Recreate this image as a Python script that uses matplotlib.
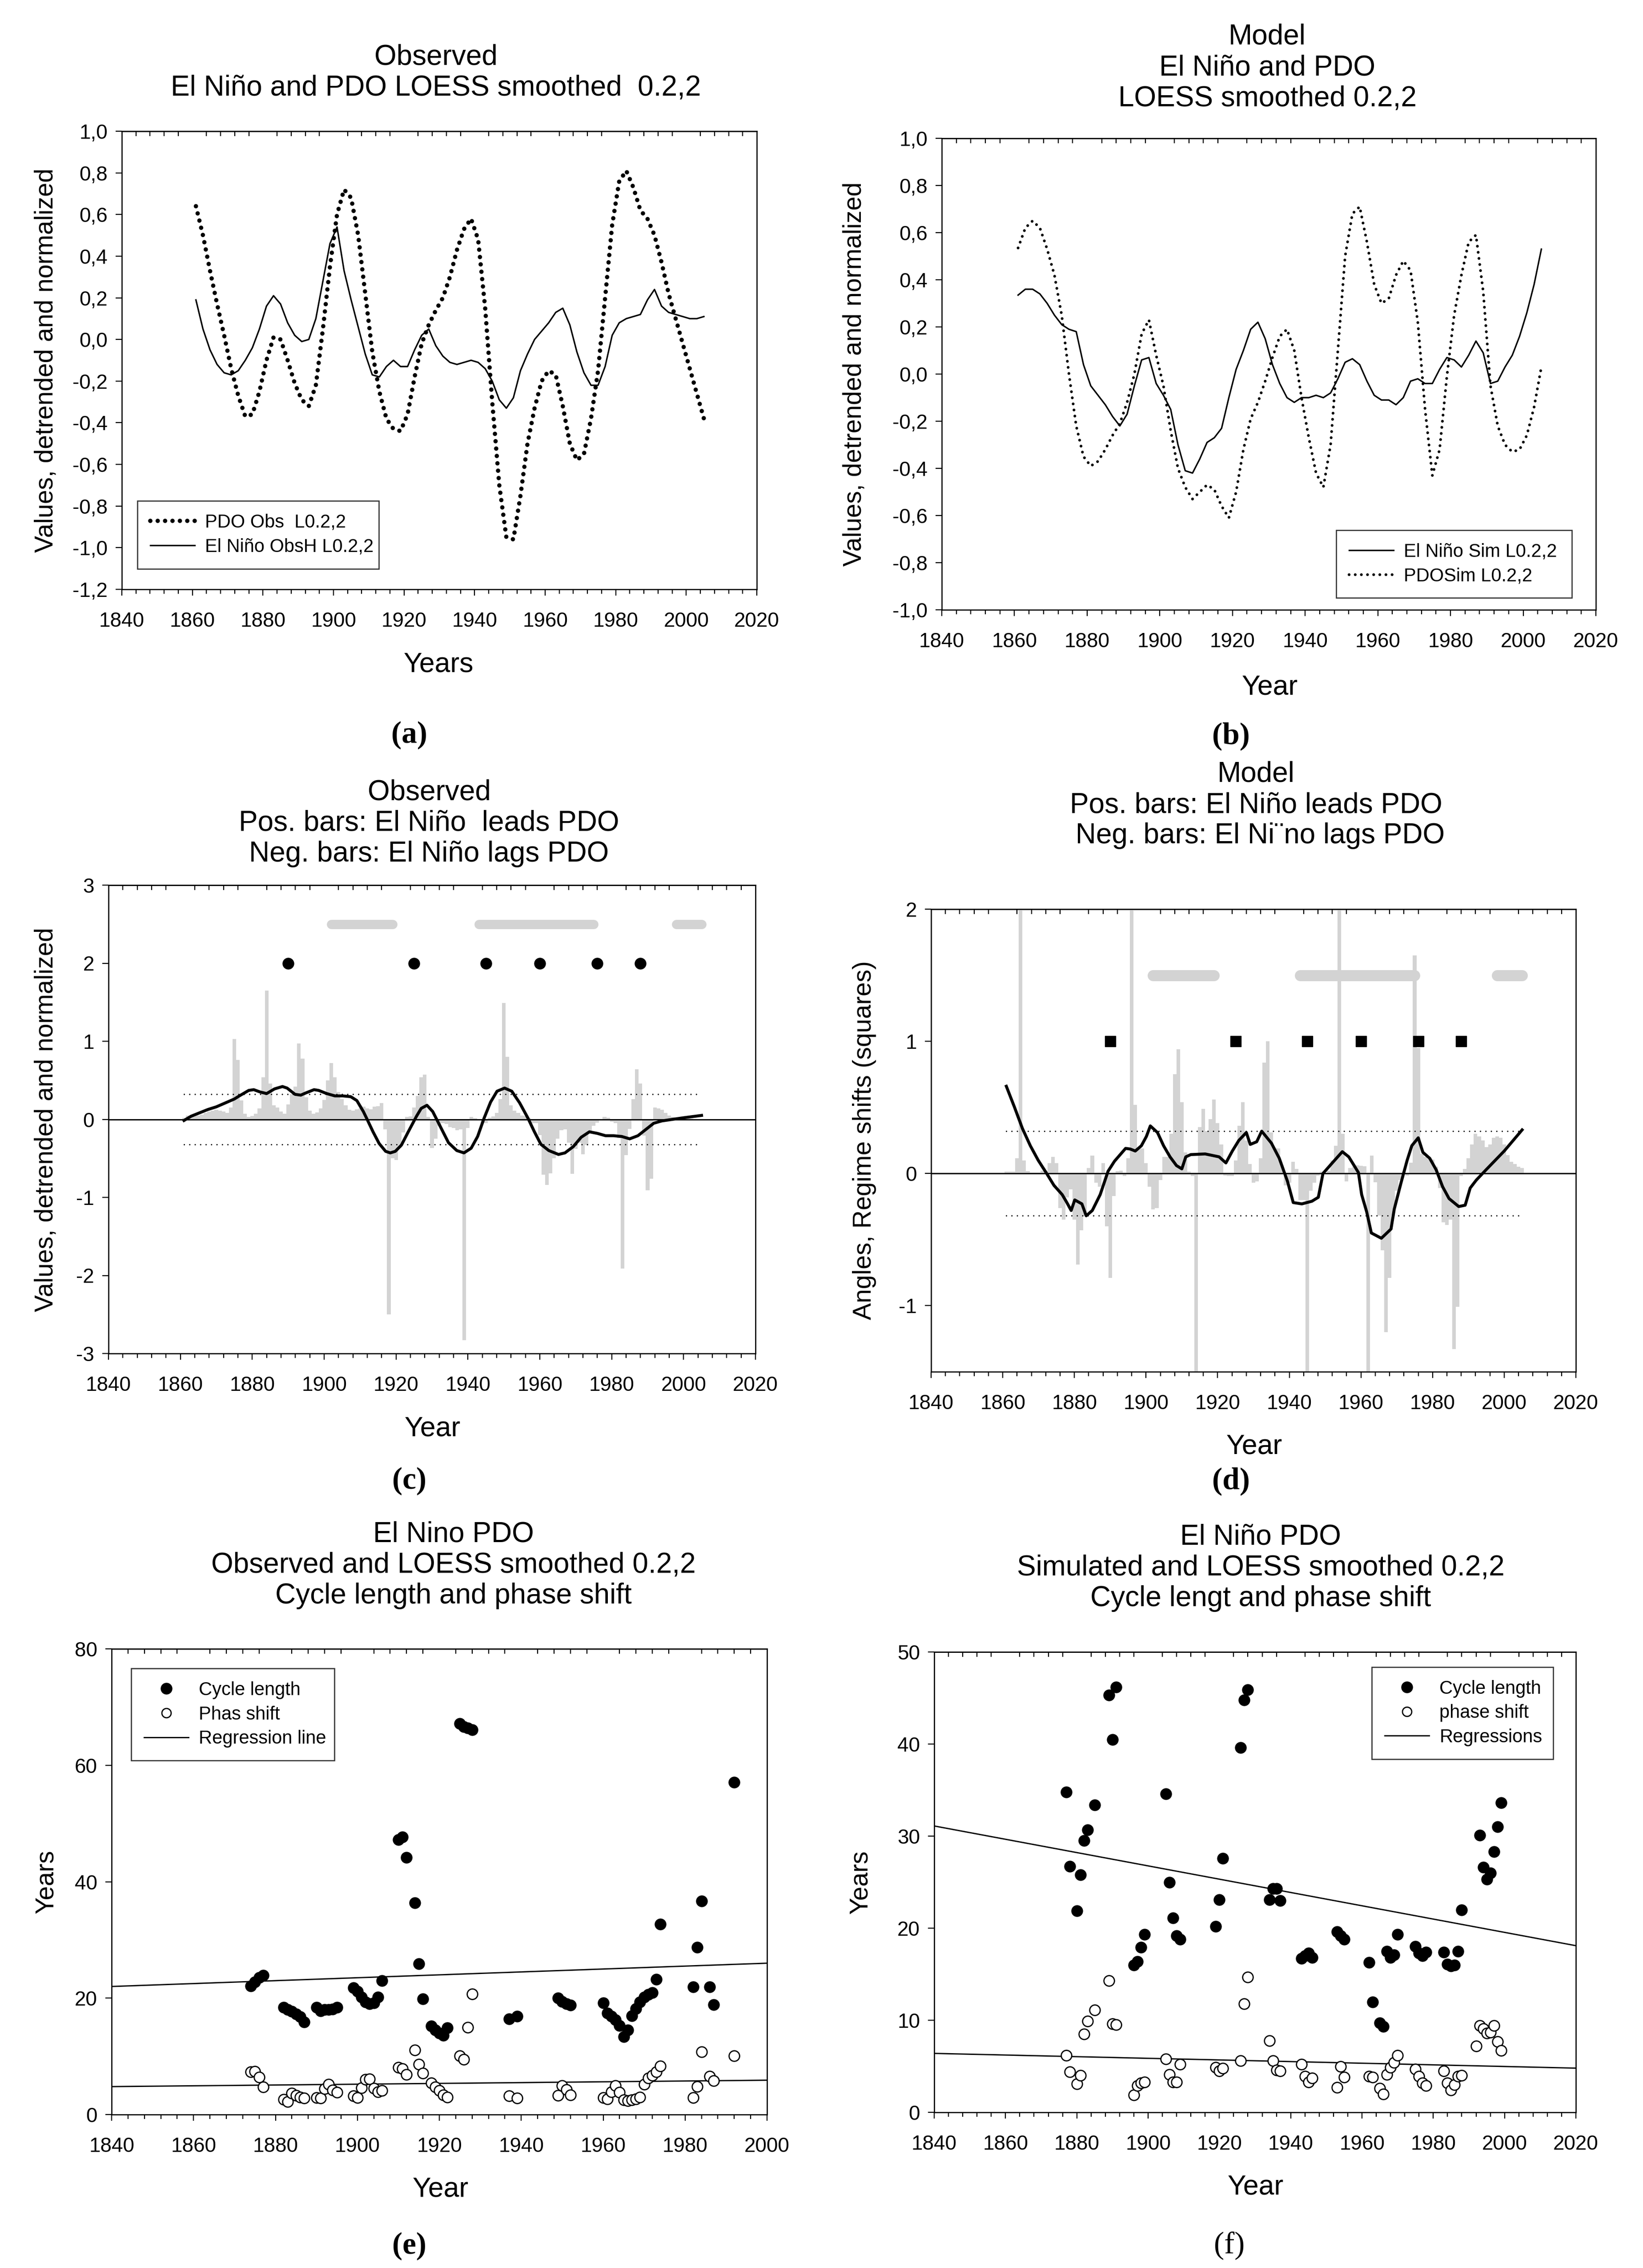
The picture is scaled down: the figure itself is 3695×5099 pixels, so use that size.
import matplotlib
matplotlib.use("Agg")
import matplotlib.pyplot as plt
from matplotlib import ticker
from matplotlib.lines import Line2D

plt.rcParams['font.family'] = ['Liberation Sans', 'DejaVu Sans']

W, H = 3695, 5099
GRAY = '#d3d3d3'

# ---------------- (a) observed, LOESS smoothed ----------------
a_years = list(range(1861, 2006, 2))
pdo_obs = [0.64, 0.50, 0.33, 0.17, 0.02, -0.14, -0.27, -0.37, -0.36, -0.25,
           -0.10, 0.01, 0.00, -0.10, -0.21, -0.29, -0.32, -0.22, 0.05, 0.35,
           0.60, 0.72, 0.68, 0.50, 0.22, -0.06, -0.25, -0.38, -0.43, -0.44,
           -0.36, -0.18, -0.02, 0.07, 0.14, 0.20, 0.30, 0.43, 0.53, 0.58,
           0.48, 0.15, -0.30, -0.70, -0.95, -0.96, -0.75, -0.50, -0.33, -0.20,
           -0.15, -0.17, -0.32, -0.50, -0.58, -0.55, -0.38, -0.15, 0.20, 0.55,
           0.76, 0.81, 0.73, 0.62, 0.58, 0.50, 0.37, 0.22, 0.10, -0.02,
           -0.14, -0.26, -0.38]
nino_obs = [0.19, 0.05, -0.05, -0.12, -0.16, -0.17, -0.15, -0.10, -0.04, 0.05,
            0.16, 0.21, 0.17, 0.08, 0.02, -0.01, 0.00, 0.10, 0.28, 0.46,
            0.54, 0.33, 0.19, 0.06, -0.07, -0.17, -0.18, -0.13, -0.10, -0.13,
            -0.13, -0.05, 0.02, 0.05, -0.03, -0.08, -0.11, -0.12, -0.11, -0.10,
            -0.11, -0.14, -0.20, -0.29, -0.33, -0.28, -0.15, -0.07, 0.00, 0.04,
            0.08, 0.13, 0.15, 0.07, -0.06, -0.16, -0.22, -0.22, -0.13, 0.02,
            0.08, 0.10, 0.11, 0.12, 0.19, 0.24, 0.16, 0.13, 0.12, 0.11,
            0.10, 0.10, 0.11]
a_yticks = [-1.2, -1.0, -0.8, -0.6, -0.4, -0.2, 0.0, 0.2, 0.4, 0.6, 0.8, 1.0]
a_ylabels = ['-1,2', '-1,0', '-0,8', '-0,6', '-0,4', '-0,2', '0,0', '0,2', '0,4', '0,6', '0,8', '1,0']

# ---------------- (b) model, LOESS smoothed ----------------
b_years = list(range(1861, 2006, 2))
nino_sim = [0.335, 0.36, 0.36, 0.34, 0.30, 0.25, 0.21, 0.19, 0.18, 0.04,
            -0.05, -0.09, -0.13, -0.18, -0.22, -0.17, -0.05, 0.06, 0.07, -0.04,
            -0.09, -0.15, -0.30, -0.41, -0.42, -0.36, -0.29, -0.27, -0.23, -0.10,
            0.02, 0.10, 0.19, 0.22, 0.15, 0.04, -0.04, -0.10, -0.12, -0.10,
            -0.10, -0.09, -0.10, -0.08, -0.02, 0.05, 0.065, 0.04, -0.03, -0.09,
            -0.11, -0.11, -0.13, -0.10, -0.03, -0.02, -0.04, -0.04, 0.02, 0.07,
            0.06, 0.03, 0.08, 0.14, 0.09, -0.04, -0.03, 0.03, 0.08, 0.16,
            0.26, 0.38, 0.53]
pdo_sim = [0.535, 0.62, 0.65, 0.62, 0.53, 0.42, 0.25, 0.00, -0.22, -0.35,
           -0.39, -0.37, -0.32, -0.26, -0.21, -0.12, 0.00, 0.17, 0.23, 0.08,
           -0.05, -0.24, -0.40, -0.48, -0.53, -0.50, -0.47, -0.49, -0.56, -0.61,
           -0.50, -0.32, -0.19, -0.12, -0.03, 0.07, 0.16, 0.19, 0.10, -0.10,
           -0.27, -0.42, -0.48, -0.30, 0.10, 0.50, 0.68, 0.71, 0.56, 0.38,
           0.30, 0.32, 0.42, 0.48, 0.44, 0.22, -0.15, -0.43, -0.32, -0.01,
           0.25, 0.42, 0.56, 0.59, 0.35, -0.05, -0.22, -0.30, -0.33, -0.32,
           -0.26, -0.14, 0.03]
b_yticks = [-1.0, -0.8, -0.6, -0.4, -0.2, 0.0, 0.2, 0.4, 0.6, 0.8, 1.0]
b_ylabels = ['-1,0', '-0,8', '-0,6', '-0,4', '-0,2', '0,0', '0,2', '0,4', '0,6', '0,8', '1,0']

# ---------------- (c) observed lead/lag bars ----------------
c_bar_years = list(range(1861, 2005))
c_bar_vals = [0.02, 0.05, 0.05, 0.04, 0.05, 0.06, 0.08, 0.10, 0.11,
              0.12, 0.11, 0.10, 0.08, 0.15, 1.03, 0.76, 0.24, 0.07, 0.03,
              0.04, 0.07, 0.14, 0.54, 1.65, 0.46, 0.18, 0.15, 0.10, 0.07,
              0.19, 0.32, 0.42, 0.97, 0.78, 0.28, 0.11, 0.07, 0.09, 0.14,
              0.25, 0.50, 0.72, 0.54, 0.35, 0.26, 0.18, 0.12, 0.11, 0.13,
              0.14, 0.16, 0.14, 0.13, 0.16, 0.17, 0.21, -0.13, -2.50, -0.50,
              -0.52, -0.37, -0.17, 0.03, 0.035, 0.15, 0.30, 0.54, 0.57, 0.03,
              -0.37, -0.25, -0.08, -0.05, -0.06, -0.10, -0.11, -0.14, -0.13, -2.83,
              -0.11, 0.03, 0.015, -0.015, -0.045, -0.05, 0.02, 0.035, 0.08, 0.26,
              1.49, 0.80, 0.18, 0.11, 0.08, 0.05, 0.04, 0.015, -0.05, -0.05,
              -0.20, -0.71, -0.84, -0.69, -0.50, -0.25, -0.14, -0.13, -0.30, -0.70,
              -0.38, -0.30, -0.45, -0.33, -0.16, -0.08, -0.04, -0.015, 0.03, 0.02,
              -0.03, -0.05, -0.24, -1.91, -0.46, -0.12, 0.26, 0.64, 0.46, -0.21,
              -0.91, -0.76, 0.15, 0.14, 0.12, 0.08, 0.05, 0.03, 0.02, 0.02,
              0.01, 0.01, 0.01, 0.005, 0.005]
c_curve_years = [1861, 1863, 1867.6, 1870, 1872, 1875, 1876.4, 1879, 1880.4, 1882.2,
                 1884, 1886.2, 1888.4, 1889.7, 1891.9, 1893.5, 1895, 1897.2, 1898.5, 1900.7,
                 1903, 1905.2, 1907.4, 1909.1, 1910.9, 1911.8, 1913.6, 1915.3, 1917.1, 1918.4,
                 1919.8, 1921.5, 1923.4, 1925.7, 1927, 1928.6, 1930.2, 1932.4, 1934.6, 1936.9,
                 1938.9, 1940.9, 1942.7, 1944.5, 1946.3, 1948.1, 1950.2, 1952.2, 1954.4, 1956.7,
                 1958.5, 1960.3, 1962.5, 1965.2, 1967, 1969.3, 1971.5, 1973.8, 1976, 1978.3,
                 1980.5, 1982.8, 1985, 1987.3, 1989.5, 1991.7, 1994, 1997, 2000, 2005]
c_curve_vals = [-0.015, 0.04, 0.125, 0.16, 0.2, 0.26, 0.3, 0.37, 0.38, 0.35,
                0.33, 0.39, 0.42, 0.4, 0.32, 0.31, 0.34, 0.38, 0.37, 0.33,
                0.3, 0.3, 0.29, 0.24, 0.1, 0.015, -0.16, -0.31, -0.41, -0.43,
                -0.41, -0.33, -0.16, 0.04, 0.14, 0.18, 0.1, -0.1, -0.3, -0.4,
                -0.43, -0.37, -0.22, 0.015, 0.22, 0.36, 0.4, 0.36, 0.21, 0.015,
                -0.16, -0.32, -0.4, -0.45, -0.43, -0.35, -0.23, -0.16, -0.18, -0.21,
                -0.21, -0.22, -0.25, -0.21, -0.13, -0.05, -0.02, 0.0, 0.02, 0.05]

# ---------------- (d) model lead/lag bars ----------------
d_bar_years = list(range(1861, 2006))
d_bar_vals = [0.013, 0.013, 0.013, 0.115, 2.2, 0.10, 0.017, 0.007, 0.007,
              0.007, 0.02, 0.02, 0.08, 0.126, 0.08, -0.26, -0.35, -0.18, -0.12,
              -0.35, -0.69, -0.43, -0.32, 0.04, 0.135, -0.07, -0.10, 0.08, -0.40,
              -0.79, -0.17, 0.017, 0.02, -0.02, 0.115, 2.2, 0.52, 0.19, 0.19,
              0.08, -0.10, -0.27, -0.26, -0.05, 0.126, 0.126, 0.30, 0.75, 0.94,
              0.54, 0.16, 0.013, -0.02, -1.6, 0.35, 0.49, 0.32, 0.41, 0.56,
              0.38, 0.22, -0.015, -0.02, -0.02, 0.10, 0.36, 0.54, 0.25, 0.07,
              -0.07, -0.06, 0.115, 0.84, 1.00, 0.31, 0.19, 0.19, 0.06, -0.09,
              -0.07, 0.087, 0.035, -0.20, -0.20, -1.6, -0.13, -0.07, -0.015, 0.013,
              0.005, 0.02, 0.10, 0.21, 2.2, 0.30, -0.06, 0.04, 0.05, 0.06,
              0.057, 0.054, -1.6, 0.137, -0.065, -0.32, -0.58, -1.20, -0.79, -0.32,
              -0.13, -0.05, 0.013, -0.015, 0.083, 1.65, 0.95, 0.148, 0.126, 0.11,
              0.104, 0.05, -0.11, -0.37, -0.39, -0.35, -1.33, -1.01, -0.02, 0.035,
              0.115, 0.22, 0.30, 0.28, 0.25, 0.20, 0.22, 0.27, 0.28, 0.27,
              0.22, 0.14, 0.09, 0.07, 0.05, 0.04]
d_curve_years = [1861, 1863.3, 1865.5, 1867.7, 1869.9, 1872.1, 1874.3, 1876.6, 1877.9, 1879.1,
                 1880.1, 1882.1, 1883.3, 1885, 1887.2, 1889.4, 1891.2, 1894.3, 1895.6, 1897,
                 1898.7, 1900.1, 1901.2, 1903.2, 1904.9, 1906.7, 1908.5, 1910, 1911.1, 1912.5,
                 1916.5, 1920.4, 1922.3, 1924.1, 1925.9, 1928, 1929.1, 1930.9, 1932.3, 1935,
                 1937.2, 1939.5, 1941.1, 1943.5, 1946.3, 1948.1, 1949.4, 1952.1, 1954.8, 1956.6,
                 1959.3, 1960.2, 1961.6, 1962.9, 1965.7, 1968.4, 1969.3, 1971.1, 1972.9, 1974.2,
                 1976, 1977.3, 1979.2, 1981, 1982.8, 1984.6, 1987.3, 1989.1, 1990.5, 1992.2,
                 1995, 2000, 2005]
d_curve_vals = [0.66, 0.5, 0.34, 0.21, 0.10, 0.007, -0.09, -0.16, -0.22, -0.28,
                -0.2, -0.23, -0.32, -0.28, -0.16, 0.017, 0.093, 0.19, 0.185, 0.17,
                0.21, 0.28, 0.36, 0.31, 0.21, 0.126, 0.06, 0.035, 0.126, 0.143,
                0.148, 0.126, 0.08, 0.17, 0.25, 0.31, 0.22, 0.24, 0.32, 0.23,
                0.115, -0.06, -0.22, -0.23, -0.21, -0.18, 0.0, 0.083, 0.165, 0.126,
                0.007, -0.16, -0.29, -0.45, -0.49, -0.42, -0.27, -0.08, 0.10, 0.21,
                0.27, 0.16, 0.115, 0.028, -0.10, -0.19, -0.25, -0.24, -0.11, -0.05,
                0.03, 0.17, 0.33]

# shared markers of (c) and (d)
thresh_years = [1861, 2005]
thresh = 0.32
regime_start = [1902, 1943, 1998]
regime_end = [1919, 1975, 2005]
shift_years = [1890, 1925, 1945, 1960, 1976, 1988]

# ---------------- (e) observed cycle length / phase shift ----------------
e_years = [1874, 1875, 1876, 1877, 1882, 1883, 1884, 1885, 1886, 1887,
           1890, 1891, 1892, 1893, 1894, 1895, 1899, 1900, 1901, 1902,
           1903, 1904, 1905, 1906, 1910, 1911, 1912, 1914, 1915, 1916,
           1918, 1919, 1920, 1921, 1922, 1925, 1926, 1927, 1928, 1937,
           1939, 1949, 1950, 1951, 1952, 1960, 1961, 1962, 1963, 1964,
           1965, 1966, 1967, 1968, 1969, 1970, 1971, 1972, 1973, 1974,
           1982, 1983, 1984, 1986, 1987, 1992]
e_cycle = [22.1, 22.8, 23.5, 23.9, 18.4, 18.0, 17.7, 17.3, 16.8, 15.9,
           18.4, 17.8, 18.0, 18.0, 18.1, 18.4, 21.8, 21.2, 20.2, 19.3,
           19.0, 19.2, 20.2, 23.0, 47.2, 47.7, 44.2, 36.4, 25.9, 19.9,
           15.2, 14.5, 14.0, 13.6, 14.9, 67.2, 66.6, 66.4, 66.1, 16.4,
           16.9, 20.0, 19.4, 19.0, 18.8, 19.2, 17.4, 16.9, 16.3, 15.3,
           13.4, 14.5, 17.0, 18.2, 19.3, 20.2, 20.6, 20.9, 23.2, 32.7,
           21.9, 28.7, 36.7, 21.9, 18.9, 57.1]
e_phase = [7.3, 7.4, 6.4, 4.7, 2.6, 2.2, 3.7, 3.3, 3.0, 2.8,
           2.9, 2.8, 4.4, 5.2, 4.2, 3.8, 3.2, 2.9, 4.6, 6.0,
           6.1, 4.5, 3.9, 4.1, 8.1, 7.9, 6.9, 11.1, 8.6, 7.1,
           5.4, 4.7, 4.1, 3.4, 3.0, 10.1, 9.5, 15.0, 20.7, 3.2,
           2.8, 3.3, 5.0, 4.3, 3.4, 2.9, 2.7, 3.9, 5.0, 3.8,
           2.5, 2.4, 2.5, 2.7, 3.0, 5.2, 6.3, 6.7, 7.3, 8.3,
           2.9, 4.8, 10.8, 6.6, 5.8, 10.1]
e_reg_x = [1840, 2000]
e_reg_cycle = [22.0, 26.0]
e_reg_phase = [4.8, 5.9]

# ---------------- (f) simulated cycle length / phase shift ----------------
f_cycle_years = [1877, 1878, 1880, 1881, 1882, 1883, 1885, 1889, 1890, 1891,
                 1896, 1897, 1898, 1899, 1905, 1906, 1907, 1908, 1909, 1919,
                 1920, 1921, 1926, 1927, 1928, 1934, 1935, 1936, 1937, 1943,
                 1944, 1945, 1946, 1953, 1954, 1955, 1962, 1963, 1965, 1966,
                 1967, 1968, 1969, 1970, 1975, 1976, 1977, 1978, 1983, 1984,
                 1985, 1986, 1987, 1988, 1993, 1994, 1995, 1996, 1997, 1998, 1999]
f_cycle = [34.8, 26.7, 21.9, 25.8, 29.5, 30.7, 33.4, 45.3, 40.5, 46.2,
           16.0, 16.4, 17.9, 19.3, 34.6, 25.0, 21.1, 19.2, 18.8, 20.2,
           23.1, 27.6, 39.6, 44.8, 45.9, 23.1, 24.3, 24.3, 23.0, 16.7,
           17.0, 17.3, 16.8, 19.6, 19.2, 18.8, 16.3, 12.0, 9.7, 9.3,
           17.5, 16.8, 17.1, 19.3, 18.0, 17.3, 17.0, 17.4, 17.4, 16.1,
           15.9, 16.0, 17.5, 22.0, 30.1, 26.6, 25.3, 26.0, 28.3, 31.0, 33.6]
f_phase_years = [1877, 1878, 1880, 1881, 1882, 1883, 1885, 1889, 1890, 1891,
                 1896, 1897, 1898, 1899, 1905, 1906, 1907, 1908, 1909, 1919,
                 1920, 1921, 1926, 1927, 1928, 1934, 1935, 1936, 1937, 1943,
                 1944, 1945, 1946, 1953, 1954, 1955, 1962, 1963, 1965, 1966,
                 1967, 1968, 1969, 1970, 1975, 1976, 1977, 1978, 1983, 1984,
                 1985, 1986, 1987, 1988, 1992, 1993, 1994, 1995, 1996, 1997,
                 1998, 1999]
f_phase = [6.2, 4.4, 3.1, 4.0, 8.5, 9.9, 11.1, 14.3, 9.6, 9.5,
           1.9, 2.9, 3.2, 3.3, 5.8, 4.1, 3.3, 3.3, 5.2, 4.9,
           4.5, 4.8, 5.6, 11.8, 14.7, 7.8, 5.6, 4.6, 4.5, 5.2,
           3.9, 3.3, 3.7, 2.7, 5.0, 3.8, 3.9, 3.8, 2.6, 2.0,
           4.1, 4.9, 5.4, 6.2, 4.7, 3.9, 3.2, 2.9, 4.5, 3.2,
           2.4, 3.0, 3.9, 4.0, 7.2, 9.4, 9.1, 8.6, 8.7, 9.4,
           7.7, 6.7]
f_reg_x = [1840, 2020]
f_reg_cycle = [31.1, 18.1]
f_reg_phase = [6.4, 4.8]


fig = plt.figure(figsize=(W / 100, H / 100), dpi=100)


def add_axes(left, top, right, bottom):
    return fig.add_axes([left / W, 1 - bottom / H, (right - left) / W, (bottom - top) / H])


def put(x, y, s, **kw):
    fig.text(x / W, 1 - y / H, s, ha='center', va='center', **kw)


def frame(ax, x0, x1, ylim, yticks, ylabels):
    ax.set_xlim(x0, x1)
    ax.set_ylim(*ylim)
    ax.set_xticks(range(x0, x1 + 1, 20))
    ax.xaxis.set_minor_locator(ticker.MultipleLocator(4))
    ax.set_yticks(yticks)
    ax.set_yticklabels(ylabels)
    ax.tick_params(which='both', direction='out', top=False, right=False,
                   width=1.7, labelsize=33)
    ax.tick_params(axis='x', which='major', length=10, pad=26)
    ax.tick_params(axis='x', which='minor', length=7)
    ax.tick_params(axis='y', which='major', length=10, pad=13)
    for s in ax.spines.values():
        s.set_linewidth(1.9)
    top = ax.secondary_xaxis('top')
    top.xaxis.set_major_locator(ticker.NullLocator())
    top.xaxis.set_minor_locator(ticker.FixedLocator([v for v in range(x0, x1 + 1, 4) if v % 20]))
    top.tick_params(which='minor', direction='in', length=8, width=1.7)
    top.spines['top'].set_linewidth(1.9)


def box_legend(ax, handles, labels, anchor):
    leg = ax.legend(handles, labels, loc='lower left', bbox_to_anchor=anchor, mode='expand',
                    fontsize=30, frameon=True, fancybox=False, edgecolor='k',
                    borderpad=0.7, labelspacing=0.35, handlelength=2.4,
                    handletextpad=0.55, borderaxespad=0, numpoints=1)
    leg.get_frame().set_linewidth(1.9)
    return leg


TITLE = dict(fontsize=46, linespacing=1.2)
XLAB = dict(fontsize=45)
YLAB = dict(fontsize=41, rotation=90)
PANEL = dict(fontsize=50, family='Liberation Serif', fontweight='bold')

# ---- (a) ----
ax = add_axes(274, 295, 1702, 1325)
frame(ax, 1840, 2020, (-1.2, 1.0), a_yticks, a_ylabels)
l1, = ax.plot(a_years, pdo_obs, color='k', lw=7, linestyle=(0, (0.01, 1.7)),
              dash_capstyle='round')
l2, = ax.plot(a_years, nino_obs, color='k', lw=2.4)
box_legend(ax, [l1, l2], ['PDO Obs  L0.2,2', 'El Niño ObsH L0.2,2'], (0.0245, 0.045, 0.38, 0.155))
put(980, 163, 'Observed\nEl Niño and PDO LOESS smoothed  0.2,2', **TITLE)
put(986, 1494, 'Years', **XLAB)
put(104, 810, 'Values, detrended and normalized', **YLAB)
put(920, 1653, '(a)', **PANEL)

# ---- (b) ----
ax = add_axes(2118, 311, 3589, 1371)
frame(ax, 1840, 2020, (-1.0, 1.0), b_yticks, b_ylabels)
l1, = ax.plot(b_years, nino_sim, color='k', lw=2.4)
l2, = ax.plot(b_years, pdo_sim, color='k', lw=4.5, linestyle=(0, (0.01, 2.2)),
              dash_capstyle='round')
box_legend(ax, [l1, l2], ['El Niño Sim L0.2,2', 'PDOSim L0.2,2'], (0.603, 0.025, 0.36, 0.155))
put(2850, 152, 'Model\nEl Niño and PDO\nLOESS smoothed 0.2,2', **TITLE)
put(2856, 1545, 'Year', **XLAB)
put(1921, 841, 'Values, detrended and normalized', **YLAB)
put(2768, 1655, '(b)', **PANEL)

# ---- (c) ----
ax = add_axes(244, 1990, 1699, 3043)
frame(ax, 1840, 2020, (-3, 3), [-3, -2, -1, 0, 1, 2, 3], ['-3', '-2', '-1', '0', '1', '2', '3'])
ax.bar(c_bar_years, c_bar_vals, width=1.0, color=GRAY, linewidth=0, zorder=1)
ax.axhline(0, color='k', lw=2.2, zorder=2)
for lev in (thresh, -thresh):
    ax.plot(thresh_years, [lev, lev], color='k', lw=2.2, linestyle=(0, (0.01, 4)),
            dash_capstyle='round', zorder=2)
for s, e in zip(regime_start, regime_end):
    ax.plot([s, e], [2.5, 2.5], color=GRAY, lw=15, solid_capstyle='round', zorder=2)
ax.plot(shift_years, [2] * len(shift_years), 'o', color='k', ms=18, zorder=3)
ax.plot(c_curve_years, c_curve_vals, color='k', lw=4.8, solid_joinstyle='round', zorder=3)
put(965, 1851, 'Observed\nPos. bars: El Niño  leads PDO\nNeg. bars: El Niño lags PDO', **TITLE)
put(973, 3212, 'Year', **XLAB)
put(104, 2517, 'Values, detrended and normalized', **YLAB)
put(920, 3330, '(c)', **PANEL)

# ---- (d) ----
ax = add_axes(2094, 2044, 3544, 3084)
frame(ax, 1840, 2020, (-1.5, 2), [-1, 0, 1, 2], ['-1', '0', '1', '2'])
ax.bar(d_bar_years, d_bar_vals, width=1.0, color=GRAY, linewidth=0, zorder=1)
ax.axhline(0, color='k', lw=2.2, zorder=2)
for lev in (thresh, -thresh):
    ax.plot(thresh_years, [lev, lev], color='k', lw=2.2, linestyle=(0, (0.01, 4)),
            dash_capstyle='round', zorder=2)
for s, e in zip(regime_start, regime_end):
    ax.plot([s, e], [1.5, 1.5], color=GRAY, lw=18, solid_capstyle='round', zorder=2)
ax.plot(shift_years, [1] * len(shift_years), 's', color='k', ms=17, zorder=3)
ax.plot(d_curve_years, d_curve_vals, color='k', lw=4.8, solid_joinstyle='round', zorder=3)
put(2825, 1810, 'Model\nPos. bars: El Niño leads PDO\n Neg. bars: El Ni\u00a8no lags PDO', **TITLE)
put(2821, 3252, 'Year', **XLAB)
put(1944, 2564, 'Angles, Regime shifts (squares)', **YLAB)
put(2768, 3330, '(d)', **PANEL)

# ---- (e) ----
ax = add_axes(251, 3707, 1725, 4754)
frame(ax, 1840, 2000, (0, 80), [0, 20, 40, 60, 80], ['0', '20', '40', '60', '80'])
ax.plot(e_reg_x, e_reg_cycle, color='k', lw=2.1, zorder=1)
ax.plot(e_reg_x, e_reg_phase, color='k', lw=2.1, zorder=1)
ax.plot(e_years, e_cycle, 'o', ms=18, mfc='k', mec='k', zorder=3)
ax.plot(e_years, e_phase, 'o', ms=17, mfc='white', mec='k', mew=2.0, zorder=3)
hs = [Line2D([], [], ls='none', marker='o', ms=18, mfc='k', mec='k'),
      Line2D([], [], ls='none', marker='o', ms=15, mfc='white', mec='k', mew=2.0),
      Line2D([], [], color='k', lw=2.1)]
box_legend(ax, hs, ['Cycle length', 'Phas shift', 'Regression line'], (0.030, 0.76, 0.31, 0.2))
put(1020, 3519, 'El Nino PDO\nObserved and LOESS smoothed 0.2,2\nCycle length and phase shift', **TITLE)
put(991, 4922, 'Year', **XLAB)
put(104, 4230, 'Years', **YLAB)
put(920, 5050, '(e)', **PANEL)

# ---- (f) ----
ax = add_axes(2101, 3714, 3544, 4749)
frame(ax, 1840, 2020, (0, 50), [0, 10, 20, 30, 40, 50], ['0', '10', '20', '30', '40', '50'])
ax.plot(f_reg_x, f_reg_cycle, color='k', lw=2.1, zorder=1)
ax.plot(f_reg_x, f_reg_phase, color='k', lw=2.1, zorder=1)
ax.plot(f_cycle_years, f_cycle, 'o', ms=18, mfc='k', mec='k', zorder=3)
ax.plot(f_phase_years, f_phase, 'o', ms=17, mfc='white', mec='k', mew=2.0, zorder=3)
hs = [Line2D([], [], ls='none', marker='o', ms=18, mfc='k', mec='k'),
      Line2D([], [], ls='none', marker='o', ms=15, mfc='white', mec='k', mew=2.0),
      Line2D([], [], color='k', lw=2.1)]
box_legend(ax, hs, ['Cycle length', 'phase shift', 'Regressions'], (0.682, 0.767, 0.283, 0.2))
put(2835, 3525, 'El Niño PDO\nSimulated and LOESS smoothed 0.2,2\nCycle lengt and phase shift', **TITLE)
put(2824, 4917, 'Year', **XLAB)
put(1935, 4231, 'Years', **YLAB)
put(2765, 5048, '(f)', fontsize=50, family='Liberation Serif')

fig.savefig('out.png', dpi=100, facecolor='white')
